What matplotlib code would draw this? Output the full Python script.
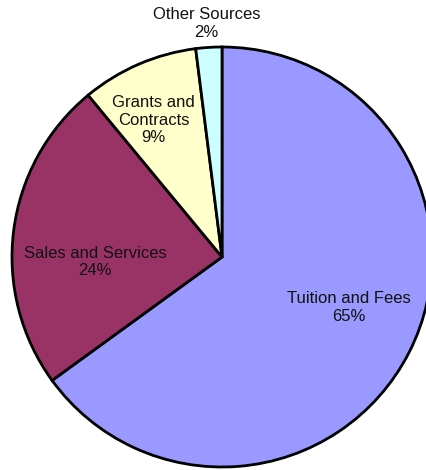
import numpy as np
import matplotlib
matplotlib.use("Agg")
import matplotlib.pyplot as plt

# Revenue sources (percent of total)
categories = ["Tuition and Fees", "Sales and Services", "Grants and\nContracts", "Other Sources"]
shares = [65, 24, 9, 2]
colors = ["#9999FF", "#993366", "#FFFFCC", "#CCFFFF"]

# label distance from centre (fraction of radius) and small nudges
label_radius = [0.55, 0.61, 0.72, 1.115]
label_nudge = [(0.115, 0.01), (0.0, -0.10), (-0.04, -0.01), (-0.004, 0.0)]

plt.rcParams['font.family'] = ['Liberation Sans', 'DejaVu Sans']

fig = plt.figure(figsize=(4.26, 4.70), dpi=100)
ax = fig.add_axes([12 / 426, 3 / 470, 420 / 426, 420 / 470])

wedges, _ = ax.pie(
    shares,
    colors=colors,
    startangle=90,
    counterclock=False,
    radius=1.0,
    wedgeprops=dict(edgecolor="black", linewidth=2.0, clip_on=False),
)
ax.set_xlim(-1, 1)
ax.set_ylim(-1, 1)
ax.set_aspect("equal")
ax.axis("off")

total = sum(shares)
for w, name, val, r, (dx, dy) in zip(wedges, categories, shares, label_radius, label_nudge):
    mid = np.deg2rad((w.theta1 + w.theta2) / 2)
    x = r * np.cos(mid) + dx
    y = r * np.sin(mid) + dy
    pct = round(100 * val / total)
    ax.text(x, y, f"{name}\n{pct}%", ha="center", va="center",
            fontsize=12, color="#111111", linespacing=1.2, clip_on=False)

fig.savefig("out.png", dpi=100)
plt.close(fig)
